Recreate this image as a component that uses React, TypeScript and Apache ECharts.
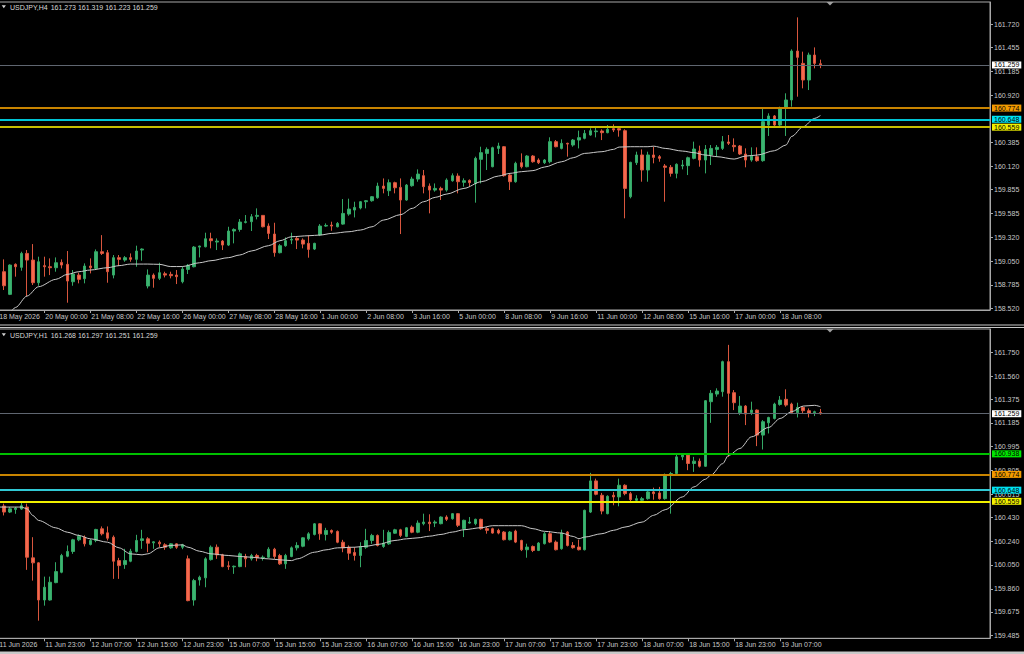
import React, { useEffect, useRef } from "react";
import * as echarts from "echarts";

const FONT = '"Liberation Sans", "DejaVu Sans", Arial, sans-serif';

// ---------------- H4 panel data ----------------
const H4_TITLE = "USDJPY,H4";
const H4_QUOTE = "161.273 161.319 161.223 161.259";
const H4_TIME_LABELS = [
  "18 May 2026", "20 May 00:00", "21 May 08:00", "22 May 16:00", "26 May 00:00", "27 May 08:00",
  "28 May 16:00", "1 Jun 00:00", "2 Jun 08:00", "3 Jun 16:00", "5 Jun 00:00", "8 Jun 08:00",
  "9 Jun 16:00", "11 Jun 00:00", "12 Jun 08:00", "15 Jun 16:00", "17 Jun 00:00", "18 Jun 08:00",
];
const H4_PRICE_TICKS = [161.72, 161.455, 161.185, 160.92, 160.385, 160.12, 159.855, 159.585, 159.32, 159.05, 158.785, 158.52];
const H4_LEVELS = [161.259, 160.774, 160.648, 160.559];
// open, high, low, close
const H4_OHLC: [number, number, number, number][] = [
  [158.690, 158.951, 158.669, 158.932], [158.932, 159.071, 158.726, 158.774], [158.677, 159.015, 158.669, 159.007],
  [159.015, 159.026, 158.876, 158.988], [158.981, 159.157, 158.943, 159.138], [159.138, 159.176, 158.658, 159.063],
  [159.063, 159.243, 158.782, 158.808], [158.808, 159.101, 158.774, 159.044], [159.000, 159.101, 158.876, 158.988],
  [158.988, 159.082, 158.894, 158.977], [158.977, 159.093, 158.932, 159.033], [159.037, 159.071, 158.969, 159.007],
  [159.015, 159.165, 158.583, 158.827], [158.819, 158.951, 158.774, 158.906], [158.894, 158.921, 158.801, 158.846],
  [158.853, 159.026, 158.801, 158.996], [158.996, 159.082, 158.913, 158.977], [158.969, 159.183, 158.951, 159.157],
  [159.157, 159.344, 159.120, 159.138], [159.146, 159.176, 158.808, 158.932], [158.894, 159.120, 158.857, 159.090],
  [159.090, 159.120, 158.996, 159.071], [159.063, 159.108, 159.044, 159.090], [159.090, 159.138, 159.044, 159.071],
  [159.071, 159.225, 158.988, 159.165], [159.176, 159.195, 159.056, 159.187], [158.771, 158.958, 158.744, 158.894],
  [158.894, 158.913, 158.752, 158.857], [158.857, 159.033, 158.838, 158.921], [158.909, 158.932, 158.868, 158.894],
  [158.902, 158.932, 158.857, 158.887], [158.894, 158.951, 158.793, 158.876], [158.819, 158.988, 158.801, 158.962],
  [158.958, 159.018, 158.906, 159.003], [158.988, 159.221, 158.981, 159.209], [159.209, 159.225, 159.093, 159.221],
  [159.213, 159.371, 159.206, 159.303], [159.303, 159.371, 159.195, 159.281], [159.266, 159.307, 159.176, 159.277],
  [159.277, 159.288, 159.176, 159.232], [159.232, 159.438, 159.221, 159.390], [159.390, 159.420, 159.251, 159.408],
  [159.408, 159.525, 159.382, 159.491], [159.487, 159.570, 159.476, 159.495], [159.495, 159.581, 159.390, 159.551],
  [159.555, 159.645, 159.521, 159.566], [159.566, 159.570, 159.431, 159.438], [159.446, 159.476, 159.300, 159.363],
  [159.356, 159.483, 159.101, 159.146], [159.146, 159.243, 159.138, 159.225], [159.225, 159.318, 159.213, 159.281],
  [159.288, 159.371, 159.243, 159.296], [159.307, 159.326, 159.187, 159.288], [159.288, 159.307, 159.195, 159.243],
  [159.251, 159.344, 159.090, 159.183], [159.187, 159.258, 159.176, 159.251], [159.345, 159.468, 159.333, 159.446],
  [159.446, 159.476, 159.438, 159.453], [159.457, 159.495, 159.393, 159.446], [159.438, 159.491, 159.431, 159.476],
  [159.468, 159.750, 159.461, 159.588], [159.581, 159.754, 159.562, 159.637], [159.626, 159.720, 159.543, 159.656],
  [159.649, 159.727, 159.634, 159.720], [159.720, 159.739, 159.645, 159.731], [159.731, 159.784, 159.720, 159.776],
  [159.765, 159.934, 159.754, 159.896], [159.896, 159.982, 159.814, 159.870], [159.844, 159.971, 159.784, 159.934],
  [159.934, 159.945, 159.814, 159.877], [159.881, 159.982, 159.356, 159.739], [159.739, 159.919, 159.731, 159.907],
  [159.900, 160.001, 159.889, 159.975], [159.975, 160.084, 159.945, 160.031], [160.013, 160.077, 159.814, 159.889],
  [159.896, 159.926, 159.589, 159.851], [159.851, 159.926, 159.833, 159.870], [159.870, 159.889, 159.739, 159.851],
  [159.851, 159.983, 159.833, 159.964], [159.956, 160.039, 159.945, 160.013], [160.009, 160.039, 159.814, 159.945],
  [159.938, 159.983, 159.889, 159.956], [159.960, 159.971, 159.889, 159.934], [159.926, 160.227, 159.709, 160.208],
  [160.197, 160.339, 159.926, 160.272], [160.264, 160.332, 160.077, 160.309], [160.114, 160.339, 160.107, 160.328],
  [160.320, 160.384, 160.257, 160.347], [160.339, 160.347, 160.002, 160.013], [160.020, 160.039, 159.852, 159.945],
  [159.945, 160.170, 159.934, 160.152], [160.159, 160.264, 160.095, 160.114], [160.114, 160.245, 160.107, 160.234],
  [160.234, 160.245, 160.159, 160.170], [160.189, 160.208, 160.144, 160.159], [160.159, 160.200, 160.144, 160.189],
  [160.170, 160.445, 160.152, 160.396], [160.396, 160.414, 160.332, 160.339], [160.320, 160.422, 160.309, 160.377],
  [160.377, 160.384, 160.227, 160.369], [160.358, 160.426, 160.339, 160.414], [160.414, 160.520, 160.320, 160.441],
  [160.433, 160.527, 160.422, 160.489], [160.471, 160.546, 160.463, 160.519], [160.508, 160.565, 160.444, 160.516],
  [160.516, 160.535, 160.414, 160.497], [160.497, 160.583, 160.490, 160.535], [160.542, 160.591, 160.504, 160.527],
  [160.542, 160.565, 160.452, 160.527], [160.519, 160.535, 159.533, 159.870], [159.776, 160.170, 159.758, 160.163],
  [160.159, 160.283, 160.133, 160.246], [160.246, 160.309, 159.945, 160.077], [160.077, 160.283, 159.945, 160.246],
  [160.246, 160.339, 160.152, 160.219], [160.227, 160.245, 160.170, 160.208], [160.122, 160.144, 159.720, 160.107],
  [160.107, 160.133, 160.002, 160.039], [160.039, 160.152, 159.983, 160.141], [160.122, 160.189, 160.084, 160.133],
  [160.126, 160.227, 160.020, 160.215], [160.208, 160.396, 160.197, 160.313], [160.290, 160.351, 160.114, 160.189],
  [160.189, 160.358, 160.039, 160.309], [160.245, 160.358, 160.133, 160.320], [160.309, 160.358, 160.227, 160.332],
  [160.320, 160.459, 160.302, 160.396], [160.392, 160.471, 160.358, 160.377], [160.354, 160.433, 160.283, 160.339],
  [160.347, 160.358, 160.246, 160.257], [160.257, 160.321, 160.107, 160.189], [160.189, 160.332, 160.170, 160.234],
  [160.227, 160.332, 160.170, 160.182], [160.182, 160.771, 160.170, 160.621], [160.583, 160.715, 160.460, 160.685],
  [160.685, 160.696, 160.565, 160.583], [160.583, 160.790, 160.557, 160.767], [160.771, 160.940, 160.460, 160.865],
  [160.865, 161.435, 160.790, 161.416], [161.416, 161.795, 160.902, 161.345], [161.277, 161.409, 160.996, 161.090],
  [161.090, 161.398, 160.977, 161.371], [161.371, 161.457, 161.221, 161.277], [161.273, 161.319, 161.223, 161.259],
];
// moving average: [bar index, value]
const H4_MA: [number, number][] = [
  [1, 158.42], [2, 158.48], [3, 158.53], [5, 158.658], [7, 158.763], [10, 158.846], [12, 158.902], [14, 158.932],
  [16, 158.951], [19, 158.977], [21, 159.0], [23, 159.018], [26, 159.018], [28, 159.015], [30, 158.99], [32, 158.99],
  [35, 159.033], [37, 159.056], [40, 159.09], [42, 159.12], [44, 159.165], [47, 159.225], [49, 159.281], [51, 159.326],
  [54, 159.337], [56, 159.345], [58, 159.363], [61, 159.382], [63, 159.401], [65, 159.438], [67, 159.513], [70, 159.575],
  [72, 159.645], [74, 159.72], [76, 159.769], [78, 159.806], [81, 159.87], [84, 159.945], [87, 160.009], [89, 160.039],
  [91, 160.058], [93, 160.07], [95, 160.11], [98, 160.17], [100, 160.215], [102, 160.264], [105, 160.283], [107, 160.309],
  [108, 160.335], [110, 160.339], [113, 160.339], [114, 160.345], [116, 160.32], [119, 160.29], [121, 160.272], [123, 160.245],
  [125, 160.227], [128, 160.2], [130, 160.234], [132, 160.245], [135, 160.294], [137, 160.358], [138, 160.455], [140, 160.564],
  [142, 160.658], [143, 160.69],
];

// ---------------- H1 panel data ----------------
const H1_TITLE = "USDJPY,H1";
const H1_QUOTE = "161.268 161.297 161.251 161.259";
const H1_TIME_LABELS = [
  "11 Jun 2026", "11 Jun 23:00", "12 Jun 07:00", "12 Jun 15:00", "12 Jun 23:00", "15 Jun 07:00",
  "15 Jun 15:00", "15 Jun 23:00", "16 Jun 07:00", "16 Jun 15:00", "16 Jun 23:00", "17 Jun 07:00",
  "17 Jun 15:00", "17 Jun 23:00", "18 Jun 07:00", "18 Jun 15:00", "18 Jun 23:00", "19 Jun 07:00",
];
const H1_PRICE_TICKS = [161.75, 161.56, 161.375, 161.185, 160.995, 160.805, 160.615, 160.43, 160.24, 160.05, 159.86, 159.675, 159.485];
const H1_LEVELS = [161.259, 160.938, 160.774, 160.648, 160.559];
const H1_OHLC: [number, number, number, number][] = [
  [160.520, 160.530, 160.490, 160.500], [160.521, 160.540, 160.446, 160.473], [160.473, 160.513, 160.465, 160.499],
  [160.494, 160.513, 160.459, 160.505], [160.497, 160.545, 160.491, 160.523], [160.513, 160.540, 160.011, 160.112],
  [160.107, 160.272, 159.925, 160.067], [160.067, 160.072, 159.605, 159.770], [159.770, 159.957, 159.725, 159.872],
  [159.770, 159.957, 159.765, 159.912], [159.909, 160.072, 159.904, 159.997], [159.992, 160.139, 159.984, 160.126],
  [160.120, 160.206, 160.112, 160.158], [160.158, 160.259, 160.139, 160.251], [160.251, 160.294, 160.240, 160.280],
  [160.272, 160.286, 160.198, 160.219], [160.214, 160.259, 160.206, 160.246], [160.246, 160.339, 160.232, 160.334],
  [160.339, 160.358, 160.286, 160.299], [160.307, 160.358, 160.246, 160.264], [160.272, 160.286, 159.939, 160.080],
  [160.085, 160.107, 159.939, 160.045], [160.053, 160.179, 160.019, 160.085], [160.080, 160.179, 160.072, 160.160],
  [160.158, 160.291, 160.150, 160.246], [160.246, 160.331, 160.179, 160.259], [160.259, 160.272, 160.152, 160.224],
  [160.227, 160.240, 160.179, 160.235], [160.232, 160.246, 160.192, 160.219], [160.211, 160.224, 160.171, 160.192],
  [160.187, 160.224, 160.179, 160.219], [160.219, 160.224, 160.179, 160.192], [160.192, 160.219, 160.176, 160.211],
  [160.099, 160.126, 159.760, 159.765], [159.770, 159.939, 159.725, 159.925], [159.930, 159.965, 159.885, 159.952],
  [159.947, 160.112, 159.872, 160.099], [160.093, 160.206, 160.085, 160.192], [160.192, 160.214, 160.099, 160.131],
  [160.131, 160.139, 160.032, 160.037], [160.043, 160.080, 160.011, 160.037], [160.035, 160.045, 159.979, 160.040],
  [160.037, 160.150, 160.032, 160.139], [160.118, 160.139, 160.032, 160.099], [160.099, 160.139, 160.085, 160.126],
  [160.126, 160.139, 160.080, 160.107], [160.104, 160.126, 160.085, 160.112], [160.112, 160.192, 160.104, 160.176],
  [160.176, 160.187, 160.099, 160.118], [160.126, 160.139, 160.051, 160.059], [160.059, 160.139, 160.019, 160.126],
  [160.118, 160.198, 160.112, 160.187], [160.187, 160.232, 160.166, 160.206], [160.200, 160.272, 160.192, 160.267],
  [160.259, 160.312, 160.246, 160.299], [160.294, 160.385, 160.286, 160.379], [160.379, 160.385, 160.251, 160.299],
  [160.294, 160.347, 160.246, 160.326], [160.326, 160.334, 160.299, 160.312], [160.318, 160.326, 160.224, 160.232],
  [160.232, 160.251, 160.152, 160.187], [160.192, 160.206, 160.091, 160.144], [160.150, 160.192, 160.085, 160.126],
  [160.126, 160.232, 160.032, 160.198], [160.192, 160.339, 160.179, 160.246], [160.246, 160.299, 160.219, 160.286],
  [160.286, 160.294, 160.198, 160.206], [160.198, 160.331, 160.187, 160.224], [160.219, 160.326, 160.211, 160.310],
  [160.304, 160.339, 160.299, 160.331], [160.331, 160.339, 160.272, 160.286], [160.278, 160.353, 160.272, 160.347],
  [160.353, 160.366, 160.304, 160.312], [160.312, 160.406, 160.304, 160.385], [160.380, 160.460, 160.367, 160.393],
  [160.393, 160.455, 160.321, 160.380], [160.385, 160.407, 160.353, 160.393], [160.380, 160.439, 160.375, 160.433],
  [160.433, 160.447, 160.401, 160.415], [160.420, 160.465, 160.412, 160.460], [160.460, 160.465, 160.353, 160.367],
  [160.340, 160.412, 160.273, 160.407], [160.385, 160.433, 160.380, 160.393], [160.380, 160.420, 160.367, 160.415],
  [160.415, 160.420, 160.332, 160.340], [160.340, 160.353, 160.300, 160.327], [160.340, 160.348, 160.300, 160.305],
  [160.327, 160.340, 160.295, 160.305], [160.313, 160.321, 160.246, 160.252], [160.252, 160.321, 160.246, 160.313],
  [160.321, 160.332, 160.225, 160.233], [160.246, 160.252, 160.161, 160.172], [160.172, 160.220, 160.108, 160.193],
  [160.198, 160.206, 160.153, 160.166], [160.166, 160.233, 160.161, 160.225], [160.220, 160.313, 160.214, 160.300],
  [160.300, 160.321, 160.225, 160.233], [160.233, 160.246, 160.166, 160.172], [160.180, 160.332, 160.172, 160.305],
  [160.313, 160.321, 160.198, 160.206], [160.206, 160.233, 160.180, 160.188], [160.193, 160.252, 160.166, 160.172],
  [160.172, 160.492, 160.166, 160.487], [160.473, 160.786, 160.465, 160.722], [160.722, 160.740, 160.607, 160.615],
  [160.607, 160.626, 160.455, 160.481], [160.460, 160.607, 160.455, 160.599], [160.607, 160.634, 160.527, 160.594],
  [160.594, 160.740, 160.519, 160.687], [160.687, 160.695, 160.607, 160.620], [160.620, 160.634, 160.553, 160.572],
  [160.567, 160.607, 160.562, 160.580], [160.567, 160.594, 160.562, 160.580], [160.580, 160.642, 160.572, 160.634],
  [160.634, 160.668, 160.572, 160.620], [160.626, 160.674, 160.572, 160.580], [160.580, 160.781, 160.572, 160.767],
  [160.767, 160.794, 160.460, 160.781], [160.781, 160.941, 160.767, 160.914], [160.914, 160.941, 160.888, 160.928],
  [160.928, 160.941, 160.808, 160.861], [160.861, 160.914, 160.794, 160.880], [160.880, 160.901, 160.829, 160.839],
  [160.839, 161.368, 160.834, 161.363], [161.355, 161.448, 161.186, 161.422], [161.416, 161.462, 161.395, 161.440],
  [161.435, 161.683, 161.395, 161.675], [161.675, 161.809, 160.914, 161.422], [161.427, 161.448, 161.288, 161.347],
  [161.267, 161.400, 161.248, 161.320], [161.320, 161.328, 161.168, 161.256], [161.267, 161.355, 161.248, 161.288],
  [161.288, 161.293, 161.000, 161.088], [161.088, 161.208, 160.973, 161.195], [161.186, 161.235, 161.101, 161.229],
  [161.221, 161.347, 161.213, 161.336], [161.333, 161.400, 161.323, 161.368], [161.374, 161.454, 161.315, 161.328],
  [161.336, 161.347, 161.256, 161.267], [161.267, 161.347, 161.229, 161.309], [161.309, 161.320, 161.261, 161.283],
  [161.283, 161.301, 161.229, 161.261], [161.267, 161.283, 161.240, 161.275], [161.268, 161.297, 161.251, 161.259],
];
const H1_MA: [number, number][] = [
  [0, 160.513], [4, 160.513], [5, 160.499], [6, 160.446], [7, 160.406], [10, 160.347], [12, 160.312], [14, 160.286],
  [16, 160.259], [19, 160.232], [21, 160.187], [23, 160.139], [25, 160.131], [26, 160.139], [28, 160.187], [30, 160.206],
  [32, 160.211], [33, 160.192], [35, 160.16], [37, 160.139], [40, 160.126], [42, 160.118], [44, 160.112], [47, 160.099],
  [49, 160.091], [51, 160.085], [52, 160.099], [55, 160.152], [57, 160.171], [59, 160.187], [62, 160.192], [64, 160.2],
  [66, 160.214], [69, 160.246], [71, 160.259], [73, 160.267], [75, 160.28], [77, 160.294], [79, 160.313], [81, 160.332],
  [84, 160.348], [86, 160.364], [88, 160.364], [91, 160.364], [93, 160.34], [95, 160.319], [98, 160.305], [100, 160.278],
  [101, 160.26], [102, 160.273], [105, 160.3], [107, 160.327], [109, 160.353], [112, 160.393], [114, 160.447], [116, 160.492],
  [119, 160.594], [121, 160.674], [123, 160.735], [124, 160.77], [126, 160.86], [127, 160.925], [129, 160.981], [131, 161.074],
  [134, 161.149], [136, 161.221], [138, 161.275], [140, 161.32], [142, 161.326], [143, 161.315],
];

// ---------------- layout / style ----------------
const SHIFT = 10; // chart canvas starts 10px left of the page so the first bar is cut like the reference
const SLOT_COUNT = 173; // bars plus the empty shift area on the right
const LABEL_STEP = 8;
const GRID_LEFT = SHIFT - 4.575;
const GRID_RIGHT = 34;
const FRAME = "#a8a8a8";
const TEXT = "#c8c8c8";

type LevelStyle = { line: string; box: string; width: number };
const H4_LEVEL_STYLES: LevelStyle[] = [
  { line: "#5f6670", box: "#ffffff", width: 1 },
  { line: "#c98400", box: "#f29a00", width: 2 },
  { line: "#00c4d4", box: "#00e2f2", width: 2 },
  { line: "#c8be00", box: "#f2f200", width: 2 },
];
const H1_LEVEL_STYLES: LevelStyle[] = [
  { line: "#5f6670", box: "#ffffff", width: 1 },
  { line: "#00c000", box: "#00e600", width: 2 },
  { line: "#c98400", box: "#f29a00", width: 2 },
  { line: "#30c8d4", box: "#00e2f2", width: 2 },
  { line: "#f0f000", box: "#f2f200", width: 2 },
];

interface PanelCfg {
  ohlc: [number, number, number, number][];
  ma: [number, number][];
  times: string[];
  ticks: number[];
  levels: number[];
  levelStyles: LevelStyle[];
  top: number;
  height: number;
  min: number;
  max: number;
}

function buildPanel(cfg: PanelCfg, k: number) {
  const cats = Array.from({ length: SLOT_COUNT }, (_, i) => String(i));
  const showIdx = (i: number) => i % LABEL_STEP === 0 && i / LABEL_STEP < cfg.times.length;
  const grid = {
    left: GRID_LEFT,
    right: GRID_RIGHT,
    top: cfg.top,
    height: cfg.height,
    show: true,
    borderColor: FRAME,
    borderWidth: 1,
    backgroundColor: "transparent",
  };
  const xAxis = {
    type: "category",
    gridIndex: k,
    data: cats,
    boundaryGap: true,
    position: "bottom",
    axisLine: { show: true, lineStyle: { color: FRAME, width: 1 } },
    axisTick: { show: true, alignWithLabel: true, interval: (i: number) => showIdx(i), length: 3, lineStyle: { color: FRAME } },
    axisLabel: {
      show: true,
      interval: (i: number) => showIdx(i),
      formatter: (v: string) => cfg.times[Number(v) / LABEL_STEP] ?? "",
      color: TEXT,
      fontSize: 7,
      fontFamily: FONT,
      align: "left",
      margin: 3,
      padding: [0, 0, 0, 1],
    },
    splitLine: { show: false },
  };
  const yAxis = {
    type: "value",
    gridIndex: k,
    position: "right",
    min: cfg.min,
    max: cfg.max,
    axisLine: { show: true, lineStyle: { color: FRAME, width: 1 } },
    axisTick: { show: true, length: 3, customValues: cfg.ticks, lineStyle: { color: FRAME } },
    axisLabel: {
      show: true,
      customValues: cfg.ticks,
      formatter: (v: number) => v.toFixed(3),
      color: TEXT,
      fontSize: 7,
      fontFamily: FONT,
      margin: 4,
    },
    splitLine: { show: false },
  };
  const series = [
    {
      type: "candlestick",
      xAxisIndex: k,
      yAxisIndex: k,
      barWidth: 3,
      data: cfg.ohlc.map(([o, h, l, c]) => [o, c, l, h]),
      itemStyle: {
        color: "#3cb371",
        color0: "#f4694e",
        borderColor: "#34a866",
        borderColor0: "#d9563e",
        borderWidth: 1,
      },
      markLine: {
        silent: true,
        symbol: ["none", "none"],
        animation: false,
        precision: 3,
        data: cfg.levels.map((v, j) => ({
          yAxis: v,
          lineStyle: { color: cfg.levelStyles[j].line, width: cfg.levelStyles[j].width, type: "solid" },
          label: {
            show: true,
            position: "end",
            formatter: () => v.toFixed(3),
            backgroundColor: cfg.levelStyles[j].box,
            color: "#000000",
            fontSize: 7,
            lineHeight: 7,
            fontFamily: FONT,
            padding: [0, 2, 0, 2],
            distance: 2,
          },
        })),
      },
    },
    {
      type: "line",
      xAxisIndex: k,
      yAxisIndex: k,
      data: cfg.ma,
      symbol: "none",
      showSymbol: false,
      smooth: 0.3,
      smoothMonotone: "x",
      clip: true,
      lineStyle: { color: "#c8c8c8", width: 1 },
      z: 3,
    },
  ];
  return { grid, xAxis, yAxis, series };
}

function header(y: number, title: string, quote: string) {
  return [
    {
      type: "polygon",
      shape: { points: [[SHIFT + 1.7, y - 1.7], [SHIFT + 5.9, y - 1.7], [SHIFT + 3.8, y + 1.3]] },
      style: { fill: "#d0d0d0" },
    },
    { type: "text", x: SHIFT + 10, y, style: { text: title, fill: "#d8d8d8", fontSize: 7, fontFamily: FONT, align: "left", verticalAlign: "middle" } },
    { type: "text", x: SHIFT + 50.7, y, style: { text: quote, fill: "#d8d8d8", fontSize: 7, fontFamily: FONT, align: "left", verticalAlign: "middle" } },
  ];
}

export default function App() {
  const ref = useRef<HTMLDivElement>(null);
  useEffect(() => {
    if (!ref.current) return;
    const chart = echarts.init(ref.current, null, { renderer: "svg" });
    const p1 = buildPanel(
      {
        ohlc: H4_OHLC, ma: H4_MA, times: H4_TIME_LABELS, ticks: H4_PRICE_TICKS, levels: H4_LEVELS,
        levelStyles: H4_LEVEL_STYLES, top: 2, height: 308, min: 158.501, max: 161.968,
      },
      0
    );
    const p2 = buildPanel(
      {
        ohlc: H1_OHLC, ma: H1_MA, times: H1_TIME_LABELS, ticks: H1_PRICE_TICKS, levels: H1_LEVELS,
        levelStyles: H1_LEVEL_STYLES, top: 329, height: 309.3, min: 159.464, max: 161.936,
      },
      1
    );
    const W = 1024 + SHIFT;
    chart.setOption({
      animation: false,
      backgroundColor: "#000000",
      grid: [p1.grid, p2.grid],
      xAxis: [p1.xAxis, p2.xAxis],
      yAxis: [p1.yAxis, p2.yAxis],
      series: [...p1.series, ...p2.series],
      graphic: [
        ...header(7, H4_TITLE, H4_QUOTE),
        ...header(335, H1_TITLE, H1_QUOTE),
        { type: "polygon", shape: { points: [[SHIFT + 826.5, 2], [SHIFT + 833.5, 2], [SHIFT + 830, 5.5]] }, style: { fill: "#a0a0a0" } },
        { type: "polygon", shape: { points: [[SHIFT + 826.5, 329], [SHIFT + 833.5, 329], [SHIFT + 830, 332.5]] }, style: { fill: "#a0a0a0" } },
        { type: "line", shape: { x1: 0, y1: 325, x2: W, y2: 325 }, style: { stroke: "#c8c8c8", lineWidth: 1 } },
        { type: "line", shape: { x1: 0, y1: 327.5, x2: W, y2: 327.5 }, style: { stroke: "#c8c8c8", lineWidth: 1 } },
        { type: "rect", shape: { x: 0, y: 651.5, width: W, height: 2.5 }, style: { fill: "#c8c8c8" } },
      ],
    });
    return () => chart.dispose();
  }, []);
  return (
    <div
      ref={ref}
      style={{ position: "fixed", left: -SHIFT, top: 0, width: 1024 + SHIFT, height: 654, background: "#000" }}
    />
  );
}
